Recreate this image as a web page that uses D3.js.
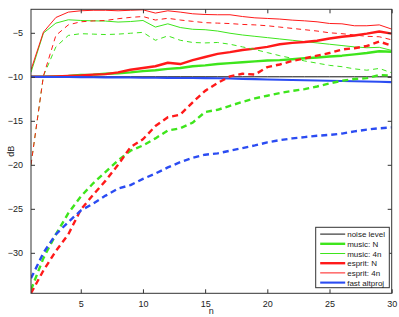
<!DOCTYPE html>
<html>
<head>
<meta charset="utf-8">
<script src="https://cdn.jsdelivr.net/npm/d3@7"></script>
<style>
  body { margin: 0; background: #fff; }
  svg { display: block; font-family: "Liberation Sans", Arial, sans-serif; }
  .tick text { font-size: 9px; fill: #222; }
</style>
</head>
<body>
<script>
// n = 1..30
var nVals = d3.range(1, 31);

// tick labels
var xTicks = [5, 10, 15, 20, 25, 30];
var yTicks = [-30, -25, -20, -15, -10, -5];

// series values (dB)
var noiseLevel = nVals.map(function(){ return -10; });

var musicN = [-10, -10, -9.95, -9.9, -9.8, -9.75, -9.65, -9.6, -9.5, -9.35,
  -9.25, -9.1, -9.0, -8.8, -8.7, -8.55, -8.45, -8.35, -8.25, -8.15,
  -8.1, -8.0, -7.9, -7.8, -7.7, -7.6, -7.45, -7.3, -7.1, -7.15];
var musicNdash = [-34.2, -30.6, -27.9, -25.5, -23.6, -22.1, -20.8, -19.5, -18.4, -17.8,
  -17.0, -16.1, -15.85, -15.2, -14.0, -13.75, -13.3, -12.85, -12.45, -12.15,
  -11.85, -11.6, -11.4, -11.1, -10.75, -10.45, -10.25, -10.15, -9.8, -9.85];
var music4n = [-9.5, -5.03, -3.9, -3.52, -3.6, -3.64, -3.67, -3.78, -3.72, -3.6,
  -4.35, -3.98, -4.4, -4.6, -4.65, -4.8, -5.05, -5.25, -5.4, -5.55,
  -5.7, -5.85, -6.0, -6.15, -6.3, -6.45, -6.6, -6.7, -6.65, -7.0];
var music4nDash = [-20, -9.9, -6.6, -5.3, -5.1, -5.15, -5.2, -5.15, -5.05, -4.95,
  -5.85, -5.35, -5.85, -6.1, -6.15, -6.1, -6.3, -6.6, -6.9, -7.25,
  -7.6, -7.9, -8.2, -8.45, -8.7, -8.85, -9.1, -9.25, -9.05, -9.55];

var espritN = [-10, -10, -9.95, -9.9, -9.85, -9.75, -9.7, -9.5, -9.2, -9.0,
  -8.8, -8.4, -8.55, -8.1, -7.75, -7.4, -7.2, -6.95, -6.8, -6.6,
  -6.3, -6.15, -6.05, -5.9, -5.65, -5.45, -5.3, -5.1, -4.85, -5.1];
var espritNdash = [-34.6, -32.0, -29.8, -27.9, -25.1, -23.4, -21.8, -20.0, -18.0, -17.1,
  -15.6, -14.6, -14.3, -12.9, -11.6, -10.7, -9.95, -9.65, -9.75, -8.9,
  -8.6, -8.2, -7.9, -7.6, -7.3, -6.9, -6.75, -6.5, -6.0, -6.45];
var esprit4n = [-9.2, -4.92, -3.26, -2.65, -2.5, -2.44, -2.44, -2.5, -2.44, -2.39,
  -2.76, -2.5, -2.65, -2.84, -2.92, -2.95, -2.95, -3.15, -3.3, -3.37,
  -3.44, -3.56, -3.64, -3.75, -3.94, -3.98, -4.2, -4.2, -4.1, -4.58];
var esprit4nDash = [-20, -9.9, -5.3, -4.1, -3.75, -3.65, -3.6, -3.4, -3.25, -3.15,
  -3.55, -3.35, -3.55, -3.7, -3.85, -3.9, -3.95, -4.05, -4.1, -4.2,
  -4.35, -4.5, -4.65, -4.8, -5.0, -5.1, -5.25, -5.4, -5.45, -5.8];

var altproj = [-10.0, -10.01, -10.02, -10.03, -10.04, -10.05, -10.06, -10.07, -10.08, -10.1,
  -10.11, -10.12, -10.13, -10.14, -10.15, -10.17, -10.2, -10.23, -10.26, -10.3,
  -10.33, -10.36, -10.39, -10.42, -10.45, -10.48, -10.51, -10.54, -10.57, -10.6];
var altprojDash = [-32.9, -30.0, -27.9, -26.5, -25.2, -24.4, -23.5, -22.7, -22.3, -21.6,
  -21.0, -20.3, -19.7, -19.2, -18.85, -18.7, -18.4, -18.1, -17.8, -17.45,
  -17.2, -17.0, -16.85, -16.7, -16.6, -16.45, -16.2, -16.0, -15.85, -15.75];

var green = "#3ee51c", red = "#ff1a1a", blue = "#2b4cf2";

// draw order (legend only lists the first six)
var series = [
  {name: "noise level", values: noiseLevel, color: "#111", width: 1, dash: null, legend: true},
  {name: "music: N", values: musicN, color: green, width: 2.4, dash: null, legend: true},
  {name: "music: 4n", values: music4n, color: green, width: 1, dash: null, legend: true},
  {name: "esprit: N", values: espritN, color: red, width: 2.4, dash: null, legend: true},
  {name: "esprit: 4n", values: esprit4n, color: red, width: 1, dash: null, legend: true},
  {name: "fast altproj", values: altproj, color: blue, width: 2.1, dash: null, legend: true},
  {name: "music: N dashed", values: musicNdash, color: green, width: 2.4, dash: "6,4"},
  {name: "music: 4n dashed", values: music4nDash, color: green, width: 1, dash: "5,4"},
  {name: "esprit: N dashed", values: espritNdash, color: red, width: 2.4, dash: "6,4"},
  {name: "esprit: 4n dashed", values: esprit4nDash, color: red, width: 1, dash: "5,4"},
  {name: "fast altproj dashed", values: altprojDash, color: blue, width: 2.4, dash: "6,4"}
];

var width = 399, height = 317;
var margin = {left: 31, right: 7.3, top: 9.3, bottom: 23.7};
var innerW = width - margin.left - margin.right,
    innerH = height - margin.top - margin.bottom;

var svg = d3.select("body").append("svg")
  .attr("width", width)
  .attr("height", height);

var x = d3.scaleLinear().domain([1, 30]).range([0, innerW]);
var y = d3.scaleLinear().domain([-34.6, -2.33]).range([innerH, 0]);

var g = svg.append("g").attr("transform", "translate(" + margin.left + "," + margin.top + ")");

g.append("clipPath").attr("id", "clip")
  .append("rect").attr("width", innerW).attr("height", innerH);

var line = d3.line()
  .x(function(d, i){ return x(nVals[i]); })
  .y(function(d){ return y(d); });

var plot = g.append("g").attr("clip-path", "url(#clip)");
plot.selectAll(".series")
  .data(series)
  .enter()
  .append("path")
  .attr("class", "series")
  .attr("d", function(d){ return line(d.values); })
  .attr("fill", "none")
  .attr("stroke", function(d){ return d.color; })
  .attr("stroke-width", function(d){ return d.width; })
  .attr("stroke-dasharray", function(d){ return d.dash; })
  .attr("stroke-linejoin", "round");

// axes, matlab style: ticks inside, box on
var fmt = function(v){ return d3.format("")(v).replace("-", "\u2212"); };
var axisColor = "#333";

var xAxis = g.append("g").attr("transform", "translate(0," + innerH + ")")
  .call(d3.axisBottom(x).tickValues(xTicks).tickSize(-4).tickPadding(7));
var xAxisTop = g.append("g")
  .call(d3.axisTop(x).tickValues(xTicks).tickSize(-4).tickFormat(""));
var yAxis = g.append("g")
  .call(d3.axisLeft(y).tickValues(yTicks).tickSize(-4).tickPadding(8).tickFormat(fmt));
var yAxisRight = g.append("g").attr("transform", "translate(" + innerW + ",0)")
  .call(d3.axisRight(y).tickValues(yTicks).tickSize(-4).tickFormat(""));

[xAxis, xAxisTop, yAxis, yAxisRight].forEach(function(a){
  a.select(".domain").remove();
  a.selectAll(".tick line").attr("stroke", axisColor);
});

g.append("rect")
  .attr("width", innerW).attr("height", innerH)
  .attr("fill", "none").attr("stroke", axisColor).attr("stroke-width", 1);

// axis labels
svg.append("text")
  .attr("x", margin.left + innerW / 2).attr("y", 314)
  .attr("text-anchor", "middle").attr("font-size", 9).attr("fill", "#222")
  .text("n");
svg.append("text")
  .attr("transform", "translate(14," + (margin.top + innerH / 2) + ") rotate(-90)")
  .attr("text-anchor", "middle").attr("font-size", 9).attr("fill", "#222")
  .text("dB");

// legend
var legendItems = series.filter(function(d){ return d.legend; });
var lg = svg.append("g").attr("transform", "translate(315.7,227.3)");
lg.append("rect")
  .attr("width", 73.6).attr("height", 60.4)
  .attr("fill", "#fff").attr("stroke", axisColor).attr("stroke-width", 1);
var entry = lg.selectAll(".entry")
  .data(legendItems)
  .enter()
  .append("g")
  .attr("class", "entry")
  .attr("transform", function(d, i){ return "translate(0," + (6.8 + i * 9.7) + ")"; });
entry.append("line")
  .attr("x1", 4.5).attr("x2", 29.5)
  .attr("stroke", function(d){ return d.color; })
  .attr("stroke-width", function(d){ return d.width; });
entry.append("text")
  .attr("x", 31.5).attr("y", 3)
  .attr("font-size", 8).attr("fill", "#222")
  .text(function(d){ return d.name; });
</script>
</body>
</html>
